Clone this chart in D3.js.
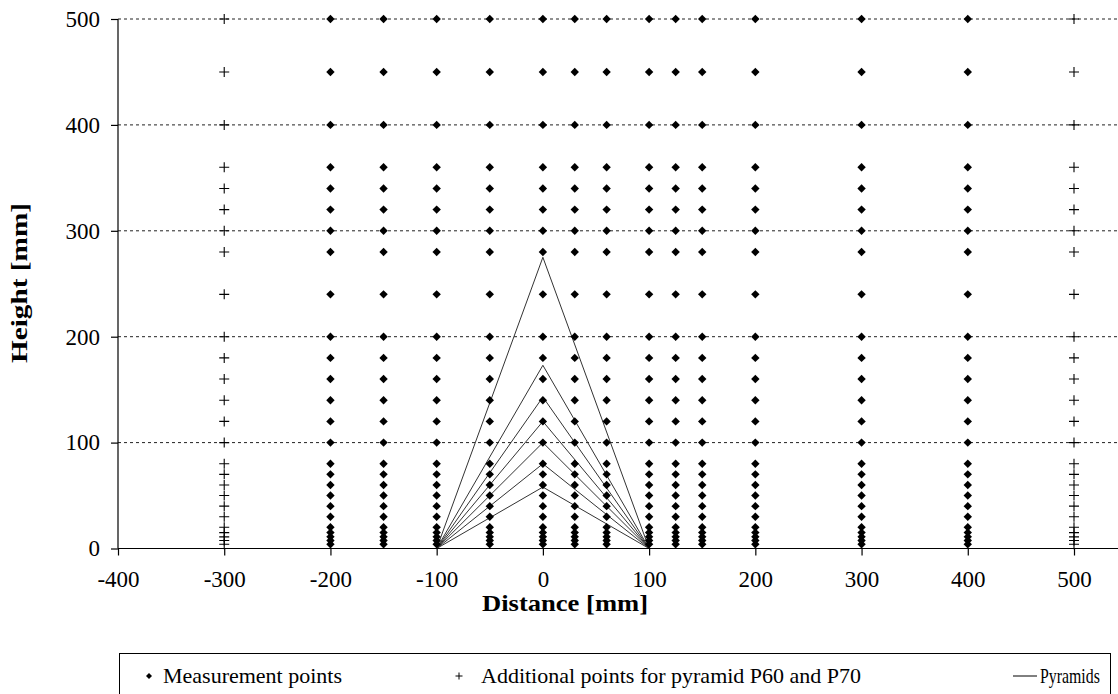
<!DOCTYPE html>
<html>
  <head>
    <meta charset="utf-8">
    <script src="https://cdnjs.cloudflare.com/ajax/libs/d3/7.8.5/d3.min.js"></script>
<style>
  body { margin: 0; background: #fff; }
  text { font-family: "Liberation Serif", "Times New Roman", serif; }
</style>
  </head>
  <body>
    <div id="vis"></div>
    <script type="text/javascript">

        // measurement columns (distance, mm)
        const measureX = [-200, -150, -100, -50, 0, 30, 60, 100, 125, 150, 200, 300, 400];
        // additional columns for pyramid P60 and P70
        const additionalX = [-300, 500];
        // heights measured in every column (mm)
        const heights = [500, 450, 400, 360, 340, 320, 300, 280, 240, 200, 180, 160, 140,
                         120, 100, 80, 70, 60, 50, 40, 30, 20, 15, 11, 7.5, 4];
        // pyramid apex heights, base from -100 to 100
        const pyramidHeights = [58, 80, 100, 120, 143, 173, 275];
        const pyramidBase = [-100, 100];

        const xTicks = [-400, -300, -200, -100, 0, 100, 200, 300, 400, 500];
        const yTicks = [0, 100, 200, 300, 400, 500];
        const legendItems = ["Measurement points", "Additional points for pyramid P60 and P70", "Pyramids"];

        const width = 1118, height = 694;
        const svg = d3.select("#vis").append("svg")
            .attr("width", width)
            .attr("height", height);

        const x = d3.scaleLinear().domain([-400, 500]).range([118, 1074]);
        const y = d3.scaleLinear().domain([0, 500]).range([548.5, 19]);
        const plotRight = width;

        // grid lines
        svg.append("g").selectAll("line")
            .data(yTicks.filter(d => d > 0))
            .join("line")
            .attr("x1", x(-400)).attr("x2", plotRight)
            .attr("y1", d => y(d)).attr("y2", d => y(d))
            .attr("stroke", "#222")
            .attr("stroke-width", 1)
            .attr("stroke-dasharray", "3,3");

        // pyramids
        const line = d3.line().x(d => x(d[0])).y(d => y(d[1]));
        svg.append("g").selectAll("path")
            .data(pyramidHeights.map(h => [[pyramidBase[0], 0], [0, h], [pyramidBase[1], 0]]))
            .join("path")
            .attr("d", line)
            .attr("fill", "none")
            .attr("stroke", "#333")
            .attr("stroke-width", 1);

        // axes
        const fmt = d => String(d);
        const xAxis = d3.axisBottom(x).tickValues(xTicks).tickSize(7).tickPadding(15).tickFormat(fmt);
        const gx = svg.append("g").attr("transform", "translate(0," + y(0) + ")").call(xAxis);
        gx.select(".domain").attr("d", "M" + x(-400) + ",0H" + plotRight);
        const yAxis = d3.axisLeft(y).tickValues(yTicks).tickSize(7).tickPadding(11).tickFormat(fmt);
        const gy = svg.append("g").attr("transform", "translate(" + x(-400) + ",0)").call(yAxis);
        gy.select(".domain").attr("d", "M0," + y(0) + "V" + y(500));
        svg.selectAll(".tick text")
            .attr("font-family", "Liberation Serif")
            .attr("font-size", 23)
            .attr("fill", "#000");
        svg.selectAll(".domain, .tick line").attr("stroke", "#000").attr("stroke-width", 1.2);

        // measurement points (diamonds)
        const measurePts = measureX.flatMap(cx => heights.map(h => [cx, h]));
        const diamond = "M0,-4.2L4.2,0L0,4.2L-4.2,0Z";
        svg.append("g").selectAll("path")
            .data(measurePts)
            .join("path")
            .attr("transform", d => "translate(" + x(d[0]) + "," + y(d[1]) + ")")
            .attr("d", diamond)
            .attr("fill", "#000");

        // additional points (+)
        const addPts = additionalX.flatMap(cx => heights.map(h => [cx, h]));
        const plus = "M-5,0H5M0,-5V5";
        svg.append("g").selectAll("path")
            .data(addPts)
            .join("path")
            .attr("transform", d => "translate(" + x(d[0]) + "," + y(d[1]) + ")")
            .attr("d", plus)
            .attr("fill", "none")
            .attr("stroke", "#000")
            .attr("stroke-width", 1.1);

        // axis titles
        svg.append("text")
            .attr("x", 565).attr("y", 611)
            .attr("text-anchor", "middle")
            .attr("font-size", 24).attr("font-weight", "bold")
            .attr("textLength", 166).attr("lengthAdjust", "spacingAndGlyphs")
            .text("Distance [mm]");
        svg.append("text")
            .attr("transform", "translate(27,283) rotate(-90)")
            .attr("text-anchor", "middle")
            .attr("font-size", 24).attr("font-weight", "bold")
            .attr("textLength", 160).attr("lengthAdjust", "spacingAndGlyphs")
            .text("Height [mm]");

        // legend
        const lg = svg.append("g");
        lg.append("rect")
            .attr("x", 119.5).attr("y", 653.5)
            .attr("width", 991).attr("height", 60)
            .attr("fill", "#fff").attr("stroke", "#000").attr("stroke-width", 1);
        const ly = 676;
        lg.append("path").attr("transform", "translate(149," + ly + ")")
            .attr("d", "M0,-3L3,0L0,3L-3,0Z").attr("fill", "#000");
        lg.append("text").attr("x", 163).attr("y", ly + 7).attr("font-size", 22)
            .text(legendItems[0]);
        lg.append("path").attr("transform", "translate(459," + ly + ")")
            .attr("d", "M-3.5,0H3.5M0,-3.5V3.5").attr("stroke", "#000").attr("stroke-width", 1);
        lg.append("text").attr("x", 481).attr("y", ly + 7).attr("font-size", 22)
            .text(legendItems[1]);
        lg.append("line").attr("x1", 1013).attr("x2", 1037).attr("y1", ly).attr("y2", ly)
            .attr("stroke", "#000").attr("stroke-width", 1);
        lg.append("text").attr("transform", "translate(1040," + (ly + 7) + ") scale(0.72,1)")
            .attr("font-size", 22)
            .text(legendItems[2]);

    </script>
  </body>
</html>
